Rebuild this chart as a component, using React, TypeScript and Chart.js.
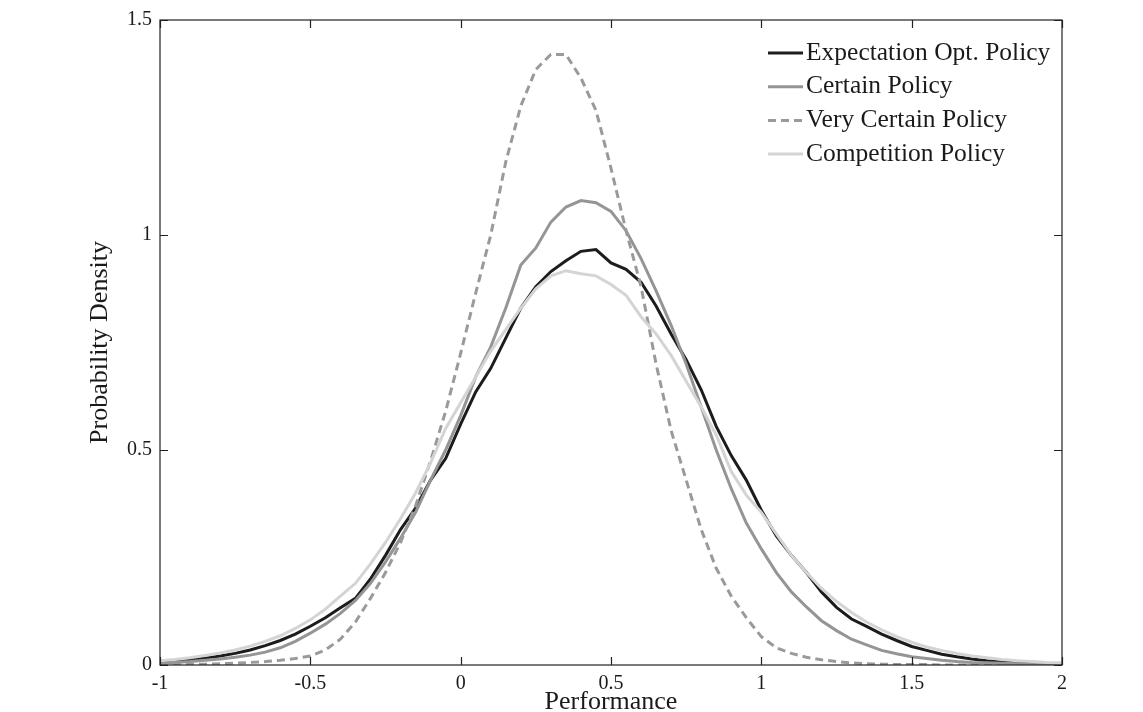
import React, { useEffect, useRef } from "react";
import { Chart, registerables } from "chart.js";
Chart.register(...registerables);

const xValues = [-1, -0.95, -0.9, -0.85, -0.8, -0.75, -0.7, -0.65, -0.6, -0.55, -0.5, -0.45, -0.4, -0.35, -0.3, -0.25, -0.2, -0.15, -0.1, -0.05, 0, 0.05, 0.1, 0.15, 0.2, 0.25, 0.3, 0.35, 0.4, 0.45, 0.5, 0.55, 0.6, 0.65, 0.7, 0.75, 0.8, 0.85, 0.9, 0.95, 1, 1.05, 1.1, 1.15, 1.2, 1.25, 1.3, 1.35, 1.4, 1.45, 1.5, 1.55, 1.6, 1.65, 1.7, 1.75, 1.8, 1.85, 1.9, 1.95, 2];

const expectationOpt = [
  0.006, 0.009, 0.012, 0.016, 0.021, 0.027, 0.035, 0.045, 0.057, 0.072,
  0.09, 0.11, 0.133, 0.155, 0.2, 0.255, 0.315, 0.365, 0.43, 0.48,
  0.56, 0.635, 0.69, 0.76, 0.83, 0.88, 0.915, 0.94, 0.962, 0.966,
  0.935, 0.92, 0.89, 0.835, 0.77, 0.71, 0.64, 0.555, 0.487, 0.43,
  0.36, 0.3, 0.255, 0.215, 0.17, 0.134, 0.107, 0.09, 0.072, 0.057,
  0.043, 0.034, 0.025, 0.019, 0.014, 0.01, 0.007, 0.005, 0.003, 0.002,
  0.001,
];

const certain = [
  0.004, 0.006, 0.008, 0.011, 0.014, 0.018, 0.023, 0.03, 0.04, 0.055,
  0.074, 0.095, 0.12, 0.15, 0.19, 0.24, 0.295, 0.355, 0.43, 0.5,
  0.58, 0.67, 0.74, 0.83, 0.93, 0.97, 1.03, 1.065, 1.08, 1.075,
  1.055, 1.01, 0.945, 0.87, 0.79, 0.7, 0.6, 0.5, 0.41, 0.33,
  0.27, 0.215, 0.17, 0.135, 0.103, 0.08, 0.06, 0.047, 0.034, 0.026,
  0.019, 0.015, 0.011, 0.008, 0.006, 0.005, 0.004, 0.003, 0.002, 0.002,
  0.001,
];

const veryCertain = [
  0.001, 0.001, 0.002, 0.002, 0.003, 0.004, 0.006, 0.008, 0.011, 0.015,
  0.021, 0.035, 0.06, 0.1, 0.155, 0.215, 0.285, 0.37, 0.475, 0.59,
  0.725, 0.865, 1.0, 1.17, 1.3, 1.385, 1.42, 1.42, 1.365, 1.29,
  1.155, 1.01, 0.88, 0.7, 0.545, 0.43, 0.315, 0.225, 0.16, 0.11,
  0.066, 0.04, 0.027, 0.018, 0.012, 0.008, 0.005, 0.003, 0.002, 0.001,
  0.001, 0.001, 0, 0, 0, 0, 0, 0, 0, 0,
  0,
];

const competition = [
  0.01, 0.013, 0.017, 0.022, 0.028, 0.035, 0.044, 0.055, 0.068, 0.085,
  0.105, 0.13, 0.16, 0.19, 0.235, 0.285, 0.34, 0.4, 0.47, 0.55,
  0.61, 0.67, 0.73, 0.78, 0.83, 0.875, 0.905, 0.917, 0.91, 0.905,
  0.885, 0.86, 0.81, 0.77, 0.72, 0.66, 0.6, 0.535, 0.45, 0.395,
  0.355, 0.305, 0.255, 0.215, 0.178, 0.148, 0.122, 0.1, 0.082, 0.066,
  0.053, 0.042, 0.034, 0.027, 0.021, 0.017, 0.013, 0.01, 0.008, 0.006,
  0.005,
];

const seriesLabels = ["Expectation Opt. Policy", "Certain Policy", "Very Certain Policy", "Competition Policy"];
const xTitle = "Performance";
const yTitle = "Probability Density";

const FONT = '"Liberation Serif", "Times New Roman", serif';

const toPoints = (ys: number[]) => xValues.map((x, i) => ({ x, y: ys[i] }));

const boxTicksPlugin = {
  id: "boxTicks",
  afterDatasetsDraw(chart: any) {
    const { ctx, chartArea, scales } = chart;
    const { left, right, top, bottom } = chartArea;
    ctx.save();
    ctx.strokeStyle = "#222";
    ctx.lineWidth = 1.2;
    ctx.strokeRect(left, top, right - left, bottom - top);
    const len = 8;
    ctx.beginPath();
    scales.x.ticks.forEach((t: any) => {
      const px = Math.round(scales.x.getPixelForValue(t.value)) + 0.5;
      ctx.moveTo(px, bottom);
      ctx.lineTo(px, bottom - len);
      ctx.moveTo(px, top);
      ctx.lineTo(px, top + len);
    });
    scales.y.ticks.forEach((t: any) => {
      const py = Math.round(scales.y.getPixelForValue(t.value)) + 0.5;
      ctx.moveTo(left, py);
      ctx.lineTo(left + len, py);
      ctx.moveTo(right, py);
      ctx.lineTo(right - len, py);
    });
    ctx.stroke();
    ctx.restore();
  },
};

const insideLegendPlugin = {
  id: "insideLegend",
  afterDraw(chart: any) {
    const ctx = chart.ctx;
    ctx.save();
    ctx.font = `25.5px ${FONT}`;
    ctx.textBaseline = "middle";
    ctx.textAlign = "left";
    chart.data.datasets.forEach((ds: any, i: number) => {
      const y = 53 + i * 33.7;
      ctx.strokeStyle = ds.borderColor;
      ctx.lineWidth = ds.borderWidth;
      ctx.setLineDash(ds.borderDash || []);
      ctx.beginPath();
      ctx.moveTo(768, y);
      ctx.lineTo(803, y);
      ctx.stroke();
      ctx.setLineDash([]);
      ctx.fillStyle = "#1a1a1a";
      ctx.fillText(ds.label, 806, y);
    });
    ctx.restore();
  },
};

export default function App() {
  const canvasRef = useRef<HTMLCanvasElement | null>(null);

  useEffect(() => {
    if (!canvasRef.current) return;
    const chart = new Chart(canvasRef.current, {
      type: "line",
      data: {
        datasets: [
          { label: seriesLabels[0], data: toPoints(expectationOpt), borderColor: "#1c1c1c", borderWidth: 3, pointRadius: 0, tension: 0, fill: false, order: 3 },
          { label: seriesLabels[1], data: toPoints(certain), borderColor: "#959595", borderWidth: 3, pointRadius: 0, tension: 0, fill: false, order: 2 },
          { label: seriesLabels[2], data: toPoints(veryCertain), borderColor: "#9a9a9a", borderWidth: 3, borderDash: [8, 5], pointRadius: 0, tension: 0, fill: false, order: 1 },
          { label: seriesLabels[3], data: toPoints(competition), borderColor: "#d4d4d4", borderWidth: 3, pointRadius: 0, tension: 0, fill: false, order: 0 },
        ],
      },
      options: {
        animation: false,
        responsive: false,
        devicePixelRatio: 1,
        layout: { padding: { left: 0, top: 20, right: 81, bottom: 0 } },
        plugins: { legend: { display: false }, tooltip: { enabled: false } },
        scales: {
          x: {
            type: "linear",
            min: -1,
            max: 2,
            grid: { display: false, drawTicks: false },
            border: { display: false },
            ticks: {
              stepSize: 0.5,
              padding: 7,
              color: "#1a1a1a",
              font: { family: FONT, size: 20 },
              maxRotation: 0,
              callback: (v: any) => String(Math.round(Number(v) * 10) / 10),
            },
            title: { display: true, text: xTitle, color: "#1a1a1a", font: { family: FONT, size: 26 }, padding: { top: 0, bottom: -6 } },
            afterFit: (s: any) => { s.height = 47; },
          },
          y: {
            type: "linear",
            min: 0,
            max: 1.5,
            grid: { display: false, drawTicks: false },
            border: { display: false },
            ticks: {
              stepSize: 0.5,
              padding: 8,
              color: "#1a1a1a",
              font: { family: FONT, size: 20 },
              callback: (v: any) => String(Math.round(Number(v) * 10) / 10),
            },
            title: { display: true, text: yTitle, color: "#1a1a1a", font: { family: FONT, size: 26 }, padding: { top: 85, bottom: 0 } },
            afterFit: (s: any) => { s.width = 160; },
          },
        },
      },
      plugins: [boxTicksPlugin, insideLegendPlugin],
    } as any);
    return () => chart.destroy();
  }, []);

  return (
    <div style={{ position: "absolute", left: 0, top: 0, width: 1143, height: 712, background: "#fff" }}>
      <canvas ref={canvasRef} width={1143} height={712} style={{ display: "block" }} />
    </div>
  );
}
